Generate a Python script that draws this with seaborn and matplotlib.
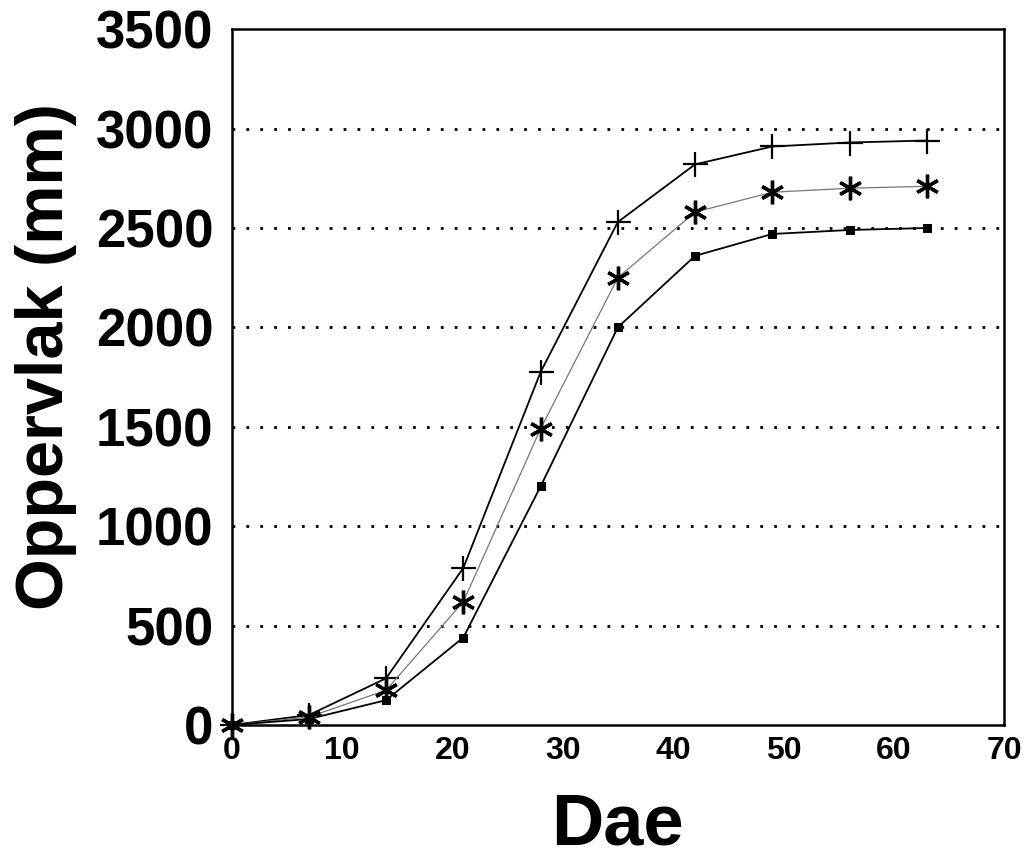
import matplotlib
matplotlib.use("Agg")
import matplotlib.pyplot as plt
import seaborn as sns
import pandas as pd

# days of measurement
days = [0, 7, 14, 21, 28, 35, 42, 49, 56, 63]

# surface area (mm) per series
plus_vals = [0, 50, 235, 790, 1775, 2530, 2820, 2910, 2930, 2940]
star_vals = [0, 40, 175, 620, 1490, 2250, 2580, 2680, 2700, 2710]
square_vals = [0, 30, 125, 440, 1200, 2000, 2360, 2470, 2490, 2500]

x_ticks = [0, 10, 20, 30, 40, 50, 60, 70]
y_ticks = [0, 500, 1000, 1500, 2000, 2500, 3000, 3500]

sns.set_style("white")
plt.rcParams['font.family'] = ['Liberation Sans', 'DejaVu Sans']
plt.rcParams['font.weight'] = 'bold'
plt.rcParams['text.color'] = 'black'
plt.rcParams['axes.labelcolor'] = 'black'
plt.rcParams['xtick.color'] = 'black'
plt.rcParams['ytick.color'] = 'black'

fig = plt.figure(figsize=(10.34, 8.59), dpi=100)
ax = fig.add_axes([0.224, 0.156, 0.747, 0.81])

# dotted horizontal grid
for y in y_ticks[1:-1]:
    ax.axhline(y, color='black', linestyle=(0, (1, 4)), linewidth=2, zorder=0)

df_plus = pd.DataFrame({'day': days, 'area': plus_vals})
df_star = pd.DataFrame({'day': days, 'area': star_vals})
df_square = pd.DataFrame({'day': days, 'area': square_vals})

sns.lineplot(data=df_plus, x='day', y='area', ax=ax, color='black', linewidth=1.3,
             marker='+', markersize=18, markeredgewidth=1.6,
             markeredgecolor='black', clip_on=False)
sns.lineplot(data=df_star, x='day', y='area', ax=ax, color='#777777', linewidth=0.9,
             marker=(6, 2, 0), markersize=17, markeredgewidth=2.4,
             markeredgecolor='black', markerfacecolor='black', clip_on=False)
sns.lineplot(data=df_square, x='day', y='area', ax=ax, color='black', linewidth=1.3,
             marker='s', markersize=5.5, markeredgecolor='black',
             markerfacecolor='black', clip_on=False)

ax.set_xlim(0, 70)
ax.set_ylim(0, 3500)
ax.set_xticks(x_ticks)
ax.set_yticks(y_ticks)
ax.tick_params(axis='x', direction='in', length=10, width=1.5, labelsize=23, pad=8)
ax.tick_params(axis='y', direction='out', length=7, width=1.5, labelsize=38, pad=6)
for lbl in ax.get_xticklabels() + ax.get_yticklabels():
    lbl.set_fontweight('bold')

for sp in ax.spines.values():
    sp.set_color('black')
    sp.set_linewidth(1.8)

ax.set_xlabel("Dae", fontsize=52, fontweight='bold', labelpad=18)
ax.set_ylabel("Oppervlak (mm)", fontsize=48, fontweight='bold')
ax.yaxis.set_label_coords(-0.2, 0.53)

fig.savefig("out.png", dpi=100)
